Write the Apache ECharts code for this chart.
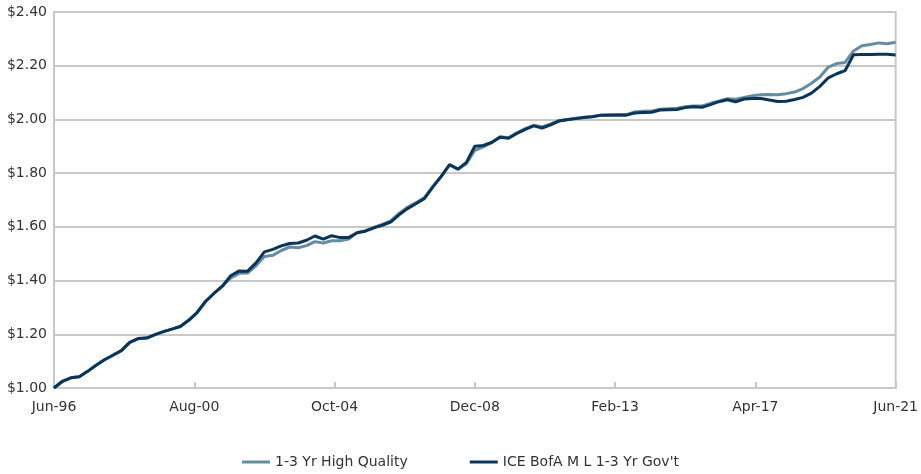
<!DOCTYPE html>
<html>
<head>
<meta charset="utf-8">
<script src="https://cdn.jsdelivr.net/npm/echarts@6/dist/echarts.min.js"></script>
<style>
html,body{margin:0;padding:0;background:#fff;}
#chart{width:921px;height:474px;}
</style>
</head>
<body>
<div id="chart"></div>
<script>
// Month index from Jun-96 (0) to Jun-21 (300), quarterly samples
var months = [];
for (var i = 0; i <= 300; i += 3) months.push(i);

var tickLabels = ['Jun-96','Aug-00','Oct-04','Dec-08','Feb-13','Apr-17','Jun-21'];

var seriesNames = ['1-3 Yr High Quality', "ICE BofA M L 1-3 Yr Gov't"];

var iceGov = [
1.000,1.025,1.038,1.042,1.062,1.085,1.105,1.122,1.139,1.170,
1.184,1.186,1.199,1.210,1.219,1.229,1.252,1.281,1.322,1.352,
1.379,1.418,1.436,1.435,1.466,1.507,1.516,1.529,1.538,1.540,
1.550,1.566,1.554,1.567,1.560,1.560,1.578,1.584,1.596,1.606,
1.618,1.645,1.668,1.686,1.705,1.748,1.787,1.832,1.815,1.840,
1.900,1.903,1.914,1.934,1.930,1.948,1.963,1.976,1.968,1.980,
1.994,1.999,2.003,2.007,2.010,2.016,2.016,2.016,2.016,2.024,
2.026,2.027,2.035,2.036,2.037,2.044,2.047,2.045,2.055,2.066,
2.073,2.066,2.076,2.078,2.078,2.072,2.067,2.068,2.074,2.082,
2.098,2.123,2.155,2.170,2.182,2.241,2.242,2.242,2.243,2.243,
2.240
];

var highQuality = [
1.000,1.025,1.038,1.042,1.062,1.085,1.105,1.122,1.139,1.170,
1.184,1.186,1.199,1.210,1.219,1.229,1.252,1.281,1.322,1.352,
1.379,1.410,1.427,1.428,1.455,1.490,1.494,1.512,1.525,1.522,
1.530,1.545,1.540,1.548,1.548,1.555,1.578,1.586,1.598,1.609,
1.622,1.650,1.673,1.690,1.708,1.750,1.789,1.830,1.815,1.835,
1.885,1.898,1.914,1.936,1.932,1.950,1.966,1.978,1.972,1.983,
1.996,2.000,2.004,2.008,2.011,2.016,2.017,2.018,2.018,2.028,
2.030,2.031,2.038,2.040,2.042,2.047,2.050,2.050,2.060,2.068,
2.077,2.075,2.082,2.088,2.092,2.093,2.092,2.096,2.102,2.115,
2.135,2.158,2.195,2.208,2.212,2.255,2.274,2.279,2.285,2.282,
2.287
];

function pairs(vals){
  return months.map(function(m, i){ return [m, vals[i]]; });
}

var chart = echarts.init(document.getElementById('chart'), null, {renderer:'canvas'});
var font = 'DejaVu Sans';
chart.setOption({
  animation: false,
  backgroundColor: '#ffffff',
  textStyle: {fontFamily: font},
  grid: {left: 54, right: 21, top: 12, bottom: 86, show: true, borderColor: '#c8c8c8', borderWidth: 2, backgroundColor: 'transparent'},
  legend: {
    bottom: 0, left: 'center',
    icon: 'rect',
    itemWidth: 28, itemHeight: 3, itemGap: 62,
    textStyle: {fontFamily: font, fontSize: 14, color: '#333'},
    data: seriesNames
  },
  xAxis: {
    type: 'value', min: 0, max: 300, interval: 50,
    axisLine: {show: true, lineStyle: {color: '#c8c8c8', width: 2}},
    axisTick: {show: true, inside: true, length: 6, lineStyle: {color: '#c8c8c8', width: 2}},
    splitLine: {show: false},
    axisLabel: {
      fontFamily: font, fontSize: 14, color: '#333', margin: 12,
      formatter: function(v){ return tickLabels[Math.round(v/50)] || ''; }
    }
  },
  yAxis: {
    type: 'value', min: 1.0, max: 2.4, interval: 0.2,
    axisLine: {show: true, lineStyle: {color: '#c8c8c8', width: 2}},
    axisTick: {show: false},
    splitLine: {show: true, lineStyle: {color: '#c8c8c8', width: 2}},
    axisLabel: {
      fontFamily: font, fontSize: 14, color: '#333', margin: 7,
      formatter: function(v){ return '$' + v.toFixed(2); }
    }
  },
  series: [
    {name: seriesNames[0], type: 'line', data: pairs(highQuality), symbol: 'none',
     lineStyle: {color: '#668ca1', width: 3}, itemStyle: {color: '#668ca1'}},
    {name: seriesNames[1], type: 'line', data: pairs(iceGov), symbol: 'none',
     lineStyle: {color: '#0b3558', width: 3}, itemStyle: {color: '#0b3558'}}
  ]
});
</script>
</body>
</html>
